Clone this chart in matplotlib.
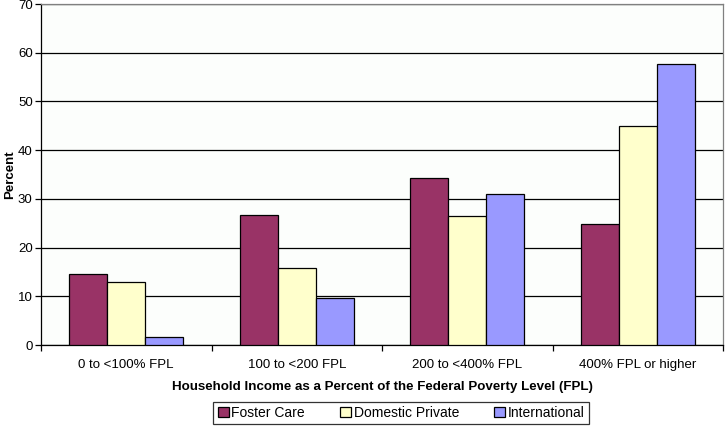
import numpy as np
import matplotlib.pyplot as plt
from matplotlib.patches import Patch

plt.rcParams["font.family"] = ["Liberation Sans", "DejaVu Sans"]

categories = ["0 to <100% FPL", "100 to <200 FPL", "200 to <400% FPL", "400% FPL or higher"]
series_names = ["Foster Care", "Domestic Private", "International"]
foster_care = [14.5, 26.7, 34.2, 24.8]
domestic_private = [12.9, 15.8, 26.4, 44.9]
international = [1.6, 9.6, 30.9, 57.6]
colors = ["#993366", "#FFFFCC", "#9999FF"]

fig = plt.figure(figsize=(7.28, 4.30), dpi=100)
ax = fig.add_axes([41 / 728, 1 - 345 / 430, 682 / 728, 341 / 430])
ax.set_facecolor("#FCFEFC")

ind = np.arange(len(categories))
width = 0.223
for i, vals in enumerate([foster_care, domestic_private, international]):
    ax.bar(ind + (i - 1) * width, vals, width, color=colors[i],
           edgecolor="black", linewidth=0.9, zorder=3)

ax.set_xlim(-0.5, len(categories) - 0.5)
ax.set_ylim(0, 70)
ax.set_yticks(np.arange(0, 71, 10))
ax.yaxis.grid(True, color="black", linewidth=0.9, zorder=0)
ax.set_axisbelow(True)

ax.set_xticks(ind)
ax.set_xticklabels(categories, fontsize=9.5)
ax.set_xticks(np.arange(-0.5, len(categories), 1), minor=True)
ax.tick_params(axis="x", which="major", length=0, pad=10)
ax.tick_params(axis="x", which="minor", length=4, width=0.9, direction="out")
ax.tick_params(axis="y", length=4, width=0.9, labelsize=9.5, pad=2)

for s in ["top", "right"]:
    ax.spines[s].set_color("#808080")
for s in ["left", "bottom"]:
    ax.spines[s].set_color("black")
for s in ax.spines.values():
    s.set_linewidth(0.9)

ax.set_ylabel("Percent", fontsize=9.5, fontweight="bold")
ax.yaxis.set_label_coords(-25 / 682, 0.5)
ax.set_xlabel("Household Income as a Percent of the Federal Poverty Level (FPL)",
              fontsize=9.6, fontweight="bold", labelpad=7)

handles = [Patch(facecolor=c, edgecolor="black", linewidth=0.9) for c in colors]
leg = fig.legend(handles, series_names, loc="center", bbox_to_anchor=(401 / 728, 1 - 413 / 430),
                 ncol=3, fontsize=10, frameon=True, fancybox=False, edgecolor="black",
                 handlelength=0.8, handleheight=0.8, handletextpad=0.2, columnspacing=2.5,
                 borderpad=0.3)
leg.get_frame().set_linewidth(0.9)

fig.savefig("out.png", dpi=100, facecolor="white")
